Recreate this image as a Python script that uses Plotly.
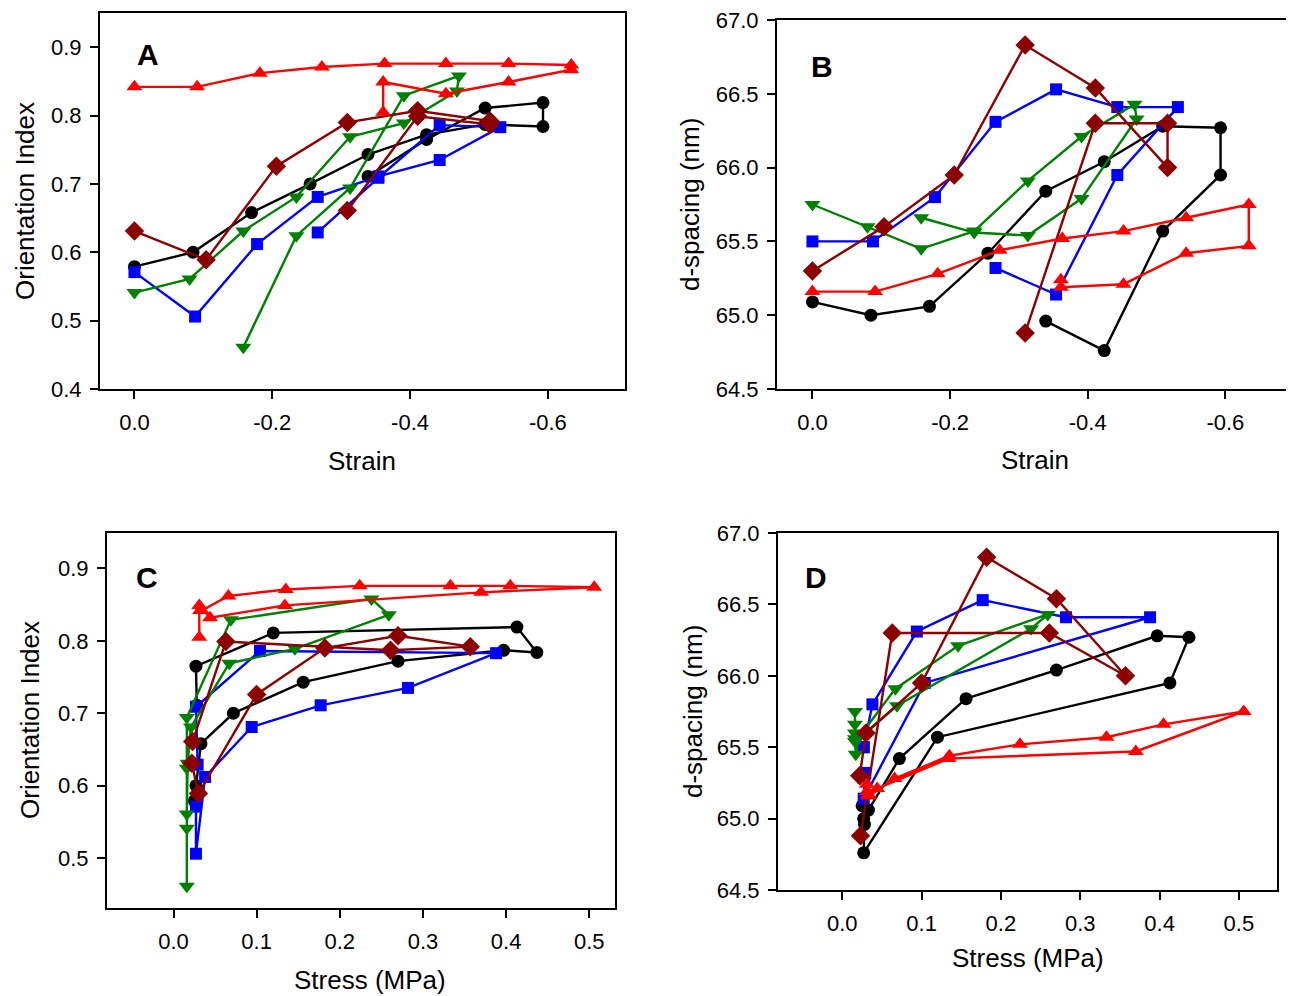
import plotly.graph_objects as go

# page body has an 8px default margin; the figure starts at (8, 8) in the page
OFF = 8
W, H = 1294 - OFF, 996 - OFF

# ---------------- data ----------------
black_strain = [0.0, -0.085, -0.170, -0.255, -0.339, -0.424, -0.509, -0.593, -0.593, -0.509, -0.424, -0.339]
black_stress = [0.025, 0.027, 0.033, 0.072, 0.156, 0.270, 0.397, 0.437, 0.413, 0.120, 0.027, 0.028]
black_oi = [0.579, 0.600, 0.658, 0.700, 0.743, 0.772, 0.787, 0.784, 0.819, 0.811, 0.765, 0.711]
black_d = [65.09, 65.00, 65.06, 65.42, 65.84, 66.04, 66.28, 66.27, 65.95, 65.57, 64.76, 64.96]

blue_strain = [0.0, -0.088, -0.178, -0.266, -0.354, -0.443, -0.531, -0.443, -0.354, -0.266]
blue_stress = [0.027, 0.027, 0.038, 0.094, 0.177, 0.282, 0.388, 0.104, 0.027, 0.029]
blue_oi = [0.571, 0.506, 0.612, 0.681, 0.711, 0.735, 0.783, 0.786, 0.709, 0.629]
blue_d = [65.50, 65.50, 65.80, 66.31, 66.53, 66.41, 66.41, 65.95, 65.14, 65.32]

green_strain = [0.0, -0.080, -0.158, -0.235, -0.313, -0.391, -0.468, -0.471, -0.391, -0.313, -0.235, -0.158]
green_stress = [0.016, 0.016, 0.017, 0.021, 0.067, 0.146, 0.259, 0.238, 0.069, 0.016, 0.016, 0.016]
green_oi = [0.541, 0.561, 0.631, 0.681, 0.769, 0.789, 0.836, 0.858, 0.829, 0.694, 0.624, 0.461]
green_d = [65.75, 65.60, 65.45, 65.57, 65.91, 66.21, 66.43, 66.33, 65.79, 65.54, 65.56, 65.66]

brown_strain = [0.0, -0.104, -0.206, -0.309, -0.411, -0.516, -0.516, -0.411, -0.309]
brown_stress = [0.022, 0.030, 0.100, 0.182, 0.270, 0.357, 0.261, 0.063, 0.023]
brown_oi = [0.631, 0.589, 0.726, 0.790, 0.807, 0.792, 0.787, 0.799, 0.661]
brown_d = [65.30, 65.60, 65.95, 66.83, 66.54, 66.00, 66.30, 66.30, 64.88]

red_strain = [0.0, -0.091, -0.182, -0.272, -0.363, -0.452, -0.543, -0.634, -0.634, -0.543, -0.452, -0.361, -0.361]
red_stress = [0.032, 0.034, 0.066, 0.135, 0.224, 0.333, 0.405, 0.506, 0.370, 0.134, 0.044, 0.031, 0.031]
red_oi = [0.842, 0.842, 0.862, 0.871, 0.876, 0.876, 0.876, 0.874, 0.867, 0.849, 0.832, 0.849, 0.805]
red_d = [65.16, 65.16, 65.28, 65.44, 65.52, 65.57, 65.66, 65.75, 65.47, 65.42, 65.21, 65.19, 65.24]

strain_ticks = [0.0, -0.2, -0.4, -0.6]
strain_labels = ["0.0", "-0.2", "-0.4", "-0.6"]
stress_ticks = [0.0, 0.1, 0.2, 0.3, 0.4, 0.5]
oi_ticks = [0.4, 0.5, 0.6, 0.7, 0.8, 0.9]
d_ticks = [64.5, 65.0, 65.5, 66.0, 66.5, 67.0]

# ---------------- styling ----------------
series = [
    dict(strain=black_strain, stress=black_stress, oi=black_oi, d=black_d,
         color="#000000", symbol="circle", size=13),
    dict(strain=blue_strain, stress=blue_stress, oi=blue_oi, d=blue_d,
         color="#0000FF", symbol="square", size=12),
    dict(strain=green_strain, stress=green_stress, oi=green_oi, d=green_d,
         color="#008000", symbol="triangle-down", size=14),
    dict(strain=brown_strain, stress=brown_stress, oi=brown_oi, d=brown_d,
         color="#8B0000", symbol="diamond", size=15),
    dict(strain=red_strain, stress=red_stress, oi=red_oi, d=red_d,
         color="#FF0000", symbol="triangle-up", size=14),
]

FONT = "Liberation Sans, Arial, sans-serif"

def px_x(p):
    return min(max((p - OFF) / W, 0.0), 1.0)

def px_y(p):
    return min(max(1 - (p - OFF) / H, 0.0), 1.0)

# panel frames in page pixels: (left, right, top, bottom)
panels = {
    "A": dict(box=(100, 625, 13, 389), xk="strain", yk="oi", xr=[0.05, -0.712], yr=[0.4, 0.95]),
    "B": dict(box=(777, 1288, 20, 389), xk="strain", yk="d", xr=[0.0515, -0.691], yr=[64.5, 67.0]),
    "C": dict(box=(107, 615, 533, 908), xk="stress", yk="oi", xr=[-0.080, 0.531], yr=[0.431, 0.949]),
    "D": dict(box=(778, 1277, 533, 890), xk="stress", yk="d", xr=[-0.081, 0.548], yr=[64.5, 67.0]),
}

fig = go.Figure()
layout = dict(width=W, height=H, margin=dict(l=0, r=0, t=0, b=0, autoexpand=False),
              template="none",
              paper_bgcolor="white", plot_bgcolor="white", showlegend=False,
              font=dict(family=FONT, color="black"))

for i, (name, p) in enumerate(panels.items()):
    n = "" if i == 0 else str(i + 1)
    l, r, t, b = p["box"]
    if p["xk"] == "strain":
        xt = dict(tickvals=strain_ticks, ticktext=strain_labels)
    else:
        xt = dict(tickvals=stress_ticks, ticktext=[f"{v:.1f}" for v in stress_ticks])
    yt_vals = oi_ticks if p["yk"] == "oi" else d_ticks
    yt = dict(tickvals=yt_vals, ticktext=[f"{v:.1f}" for v in yt_vals])
    common = dict(showline=True, linecolor="black", linewidth=2, mirror=True,
                  ticks="outside", ticklen=8, tickwidth=2, tickcolor="black",
                  showgrid=False, zeroline=False, automargin=False,
                  ticklabeloverflow="allow",
                  tickfont=dict(family=FONT, size=22, color="black"))
    layout["xaxis" + n] = dict(domain=[px_x(l), px_x(r)], range=p["xr"], anchor="y" + n,
                               ticklabelstandoff=5, **xt, **common)
    layout["yaxis" + n] = dict(domain=[px_y(b), px_y(t)], range=p["yr"], anchor="x" + n,
                               ticklabelstandoff=4, **yt, **common)
    for s in series:
        fig.add_trace(go.Scatter(
            x=s[p["xk"]], y=s[p["yk"]], xaxis="x" + n, yaxis="y" + n,
            mode="lines+markers", cliponaxis=False,
            line=dict(color=s["color"], width=2.4),
            marker=dict(symbol=s["symbol"], size=s["size"], color=s["color"],
                        line=dict(width=0)),
        ))

annotations = []
def ann(text, x, y, size, angle=0, bold=False):
    annotations.append(dict(text=f"<b>{text}</b>" if bold else text,
                            x=px_x(x), y=px_y(y), xref="paper", yref="paper",
                            xanchor="center", yanchor="middle", showarrow=False,
                            textangle=angle, font=dict(family=FONT, size=size, color="black")))

# panel letters
ann("A", 148, 55, 30, bold=True)
ann("B", 822, 67, 30, bold=True)
ann("C", 147, 577, 30, bold=True)
ann("D", 816, 577, 30, bold=True)
# axis titles
ann("Orientation Index", 25, 201, 26, angle=-90)
ann("d-spacing (nm)", 690, 205, 26, angle=-90)
ann("Orientation Index", 30, 720, 26, angle=-90)
ann("d-spacing (nm)", 693, 712, 26, angle=-90)
ann("Strain", 362, 461, 26)
ann("Strain", 1035, 460, 26)
ann("Stress (MPa)", 370, 980, 26)
ann("Stress (MPa)", 1028, 958, 26)

layout["annotations"] = annotations
fig.update_layout(**layout)
fig.write_html("out.html")
